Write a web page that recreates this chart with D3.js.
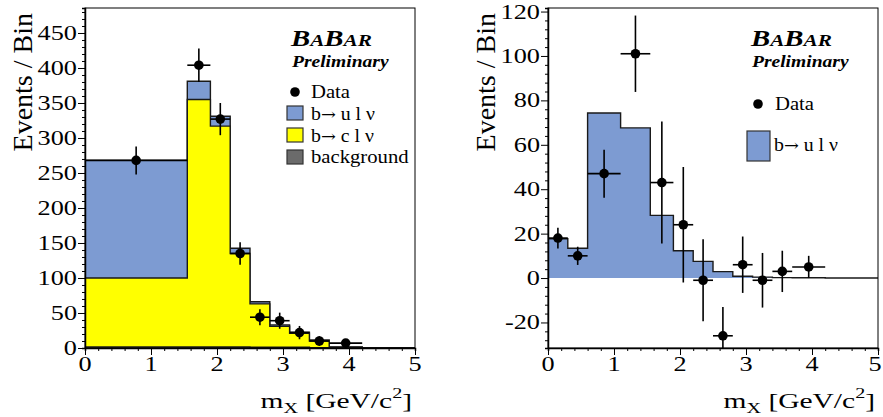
<!DOCTYPE html>
<html>
<head>
<meta charset="utf-8">
<script src="https://cdn.jsdelivr.net/npm/d3@7"></script>
<style>
  body { margin: 0; background: #fff; }
  svg { display: block; font-family: "Liberation Serif", "DejaVu Serif", serif; }
</style>
</head>
<body>
<script>
// m_X spectra, left: full fit stack, right: background-subtracted
var width = 883,
    height = 417;

// left panel bins and stacked components
var edgesL = [0, 1.55, 1.9, 2.2, 2.5, 2.8, 3.1, 3.4, 3.7, 4.2, 5];
var bkgL   = [1.5, 1.5, 1.5, 1.5, 1, 1, 1, 0.5, 0.3, 0];
var bclnuL = [98.5, 353.5, 315.5, 133.5, 62, 30, 20, 9.5, 0.7, 0];
var bulnuL = [168, 26, 14, 7.5, 3, 2, 1.4, 1.5, 0.5, 0];
var dataL  = [268, 404, 327, 135, 44, 39, 22, 10, 7];
var errL   = [20, 24, 23, 16, 11.5, 11.5, 9.5, 7, 5];

// right panel bins
var edgesR = [0, 0.3, 0.6, 1.1, 1.55, 1.9, 2.2, 2.5, 2.8, 3.1, 3.4, 3.7, 4.2, 5];
var bulnuR = [17.7, 13.4, 74.3, 67.6, 28.2, 12.3, 7.5, 2.9, 0.8, 0.4, 0.2, 0.1, 0];
var dataR  = [18, 10, 47, 101, 43, 24, -1, -26, 6, -1, 3, 5];
var errR   = [4.7, 4.1, 10.8, 17.2, 27.5, 26, 18.5, 13, 12.7, 12.3, 9.3, 5];

var xTicks = [0, 1, 2, 3, 4, 5];
var yTicksL = d3.range(0, 451, 50);
var yTicksR = d3.range(-20, 121, 20);

var blue = "#7d9bd2", yellow = "#ffff00", grey = "#6b6b6b", edge = "#1a1a1a";

var svg = d3.select("body").append("svg")
    .attr("width", width)
    .attr("height", height);

// text with horizontal stretch like the original
function txt(g, x, y, s, size, sx, anchor) {
    return g.append("text")
        .attr("transform", "translate(" + x + "," + y + ") scale(" + sx + ",1)")
        .attr("font-size", size)
        .attr("text-anchor", anchor || "start")
        .text(s);
}

// "b→ q l ν" with a long arrow
function decay(g, x, y, q, size) {
    var t = txt(g, x, y, "", size, 1.1, "start");
    t.append("tspan").text("b");
    t.append("tspan").attr("font-family", "DejaVu Serif").attr("font-size", size * 0.9).text("\u2192");
    t.append("tspan").text(" " + q + " l \u03bd");
    return t;
}

function panel(opt) {
    var g = svg.append("g");
    var x = d3.scaleLinear().domain([0, 5]).range([opt.left, opt.left + 330]);
    var y = d3.scaleLinear().domain(opt.ydom).range([348, 8]);
    var clipId = "clip" + opt.id;
    svg.append("clipPath").attr("id", clipId)
        .append("rect").attr("x", x(0)).attr("y", 8).attr("width", 330).attr("height", 340);

    var plot = g.append("g").attr("clip-path", "url(#" + clipId + ")");

    // stacked histograms: each layer filled from 0 and outlined
    opt.layers.forEach(function(l) {
        var pts = opt.edges.map(function(e, i) {
            return [e, i < l.vals.length ? l.vals[i] : l.vals[l.vals.length - 1]];
        });
        var area = d3.area().curve(d3.curveStepAfter)
            .x(function(d) { return x(d[0]); })
            .y0(y(0))
            .y1(function(d) { return y(d[1]); });
        var line = d3.line().curve(d3.curveStepAfter)
            .x(function(d) { return x(d[0]); })
            .y(function(d) { return y(d[1]); });
        plot.append("path").attr("d", area(pts)).attr("fill", l.color);
        plot.append("path").attr("d", line(pts))
            .attr("fill", "none").attr("stroke", edge).attr("stroke-width", 1.4);
    });

    // data points with errors
    opt.data.forEach(function(v, i) {
        var lo = opt.edges[i], hi = opt.edges[i + 1], c = (lo + hi) / 2;
        plot.append("line")
            .attr("x1", x(lo)).attr("x2", x(hi)).attr("y1", y(v)).attr("y2", y(v))
            .attr("stroke", "#000").attr("stroke-width", 1.6);
        plot.append("line")
            .attr("x1", x(c)).attr("x2", x(c))
            .attr("y1", y(v - opt.err[i])).attr("y2", y(v + opt.err[i]))
            .attr("stroke", "#000").attr("stroke-width", 1.6);
        plot.append("circle").attr("cx", x(c)).attr("cy", y(v)).attr("r", 4.8).attr("fill", "#000");
    });

    // frame
    g.append("rect").attr("x", x(0)).attr("y", 8).attr("width", 330).attr("height", 340)
        .attr("fill", "none").attr("stroke", "#000").attr("stroke-width", 1);

    // axes, ticks outside
    var xAx = g.append("g").attr("transform", "translate(0,348)")
        .call(d3.axisBottom(x).tickValues(d3.range(0, 5.01, 0.2)).tickSize(3).tickFormat(""));
    xAx.selectAll(".tick line").filter(function(d) { return Math.abs(d - Math.round(d)) < 1e-6; })
        .attr("y2", 7);
    xAx.select(".domain").attr("stroke-width", 1.5);

    var yAx = g.append("g").attr("transform", "translate(" + x(0) + ",0)")
        .call(d3.axisLeft(y).tickValues(opt.minor).tickSize(3).tickFormat(""));
    yAx.selectAll(".tick line").filter(function(d) { return opt.major.indexOf(d) >= 0; })
        .attr("x2", -7);
    yAx.select(".domain").attr("stroke-width", 1.5);

    xTicks.forEach(function(t) {
        // last label would fall off the page edge
        txt(g, Math.min(x(t), width - 8), 371, t, 21, 1.25, "middle");
    });
    opt.major.forEach(function(t) {
        txt(g, x(0) - 8, y(t) + 7, t, 21, 1.25, "end");
    });

    // axis titles
    g.append("text")
        .attr("transform", "translate(" + (x(0) - 53) + ",13) rotate(-90)")
        .attr("text-anchor", "end").attr("font-size", 28)
        .text("Events / Bin");
    var xt = txt(g, x(5) - 3, 408, "", 22, 1.34, "end");
    xt.append("tspan").text("m");
    xt.append("tspan").attr("dy", 5).attr("font-size", 15).text("X");
    xt.append("tspan").attr("dy", -5).text(" [GeV/c");
    xt.append("tspan").attr("dy", -10).attr("font-size", 15).text("2");
    xt.append("tspan").attr("dy", 10).text("]");

    // BaBar logo
    var lx = opt.logoX;
    var logo = txt(g, lx, 46, "", 23, 1.25, "start")
        .attr("font-weight", "bold").attr("font-style", "italic");
    logo.append("tspan").text("B");
    logo.append("tspan").attr("font-size", 17).text("A");
    logo.append("tspan").text("B");
    logo.append("tspan").attr("font-size", 17).text("AR");
    txt(g, lx + 1, 67, "Preliminary", 17, 1.15, "start")
        .attr("font-weight", "bold").attr("font-style", "italic");

    // legend
    opt.legend.forEach(function(e) {
        if (e.marker) {
            g.append("circle").attr("cx", e.mx).attr("cy", e.my).attr("r", 4.8).attr("fill", "#000");
        } else {
            g.append("rect").attr("x", e.bx).attr("y", e.by).attr("width", e.bw).attr("height", e.bh)
                .attr("fill", e.color).attr("stroke", "#333").attr("stroke-width", 1.2);
        }
        if (e.q) decay(g, e.tx, e.ty, e.q, 18);
        else txt(g, e.tx, e.ty, e.label, 18, 1.15, "start");
    });
}

panel({
    id: "L", left: 85, ydom: [0, 485.7],
    edges: edgesL,
    layers: [
        { color: blue, vals: edgesL.slice(0, -1).map(function(e, i) { return bkgL[i] + bclnuL[i] + bulnuL[i]; }) },
        { color: yellow, vals: edgesL.slice(0, -1).map(function(e, i) { return bkgL[i] + bclnuL[i]; }) },
        { color: grey, vals: bkgL }
    ],
    data: dataL, err: errL,
    major: yTicksL, minor: d3.range(0, 481, 10),
    logoX: 291,
    legend: [
        { marker: true, mx: 295, my: 92, tx: 311, ty: 98, label: "Data" },
        { bx: 287, by: 106, bw: 16, bh: 14, color: blue, tx: 311, ty: 120, q: "u" },
        { bx: 287, by: 128, bw: 16, bh: 14, color: yellow, tx: 311, ty: 142, q: "c" },
        { bx: 287, by: 150, bw: 16, bh: 14, color: grey, tx: 311, ty: 163, label: "background" }
    ]
});

panel({
    id: "R", left: 548, ydom: [-31.5, 121.6],
    edges: edgesR,
    layers: [{ color: blue, vals: bulnuR }],
    data: dataR, err: errR,
    major: yTicksR, minor: d3.range(-28, 121, 4),
    logoX: 751,
    legend: [
        { marker: true, mx: 758, my: 104, tx: 775, ty: 110, label: "Data" },
        { bx: 747, by: 131, bw: 23, bh: 30, color: blue, tx: 774, ty: 151, q: "u" }
    ]
});
</script>
</body>
</html>
